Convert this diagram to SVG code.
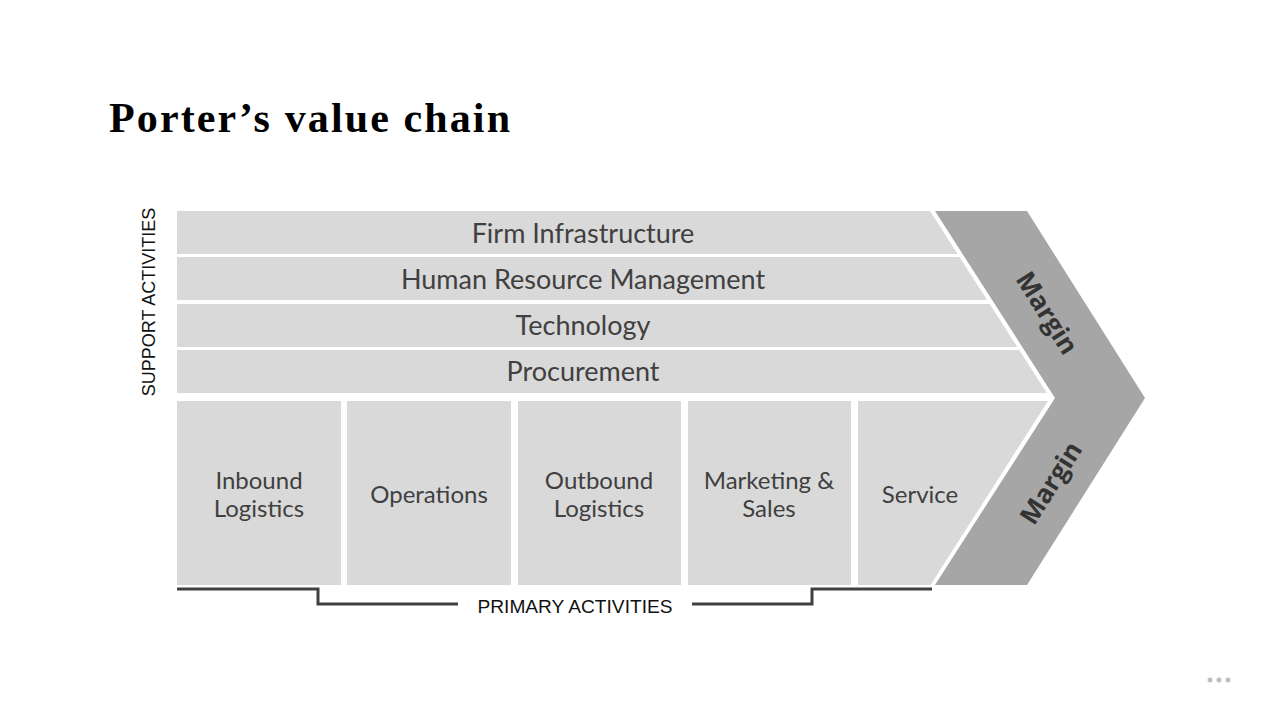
<svg xmlns="http://www.w3.org/2000/svg" width="1280" height="720" viewBox="0 0 1280 720">
<defs>
<style>
.light{fill:#d9d9d9}
.dark{fill:#a6a6a6}
.lbl{font-family:Lato,"Open Sans",sans-serif;fill:#404040;text-anchor:middle}
.row{font-size:27px}
.prim{font-size:24px}
.margin{font-family:"Open Sans",Inter,sans-serif;font-weight:700;font-size:26px;fill:#333333;text-anchor:middle}
.cap{font-family:"Liberation Sans",Arial,sans-serif;font-size:18px;fill:#111111;text-anchor:middle}
</style>
</defs>
<rect width="1280" height="720" fill="#ffffff"/>
<text x="109" y="132" font-family="'Liberation Serif',serif" font-weight="700" font-size="42" fill="#000000" textLength="401" lengthAdjust="spacing">Porter’s value chain</text>

<g id="margin">
<polygon class="dark" points="935,211 1027,211 1145,398 1027,585 935,585 1055,398"/>
<text class="margin" transform="translate(1047,313) rotate(57.7)" y="9">Margin</text>
<text class="margin" transform="translate(1051,483) rotate(-57.7)" y="9">Margin</text>
</g>

<g id="firm-infrastructure">
<polygon class="light" points="177,211 930,211 957.6,254 177,254"/>
<text class="lbl row" x="583" y="243">Firm Infrastructure</text>
</g>
<g id="hrm">
<polygon class="light" points="177,257 959.5,257 987.1,300 177,300"/>
<text class="lbl row" x="583" y="289">Human Resource Management</text>
</g>
<g id="technology">
<polygon class="light" points="177,304 989.7,304 1017.3,347 177,347"/>
<text class="lbl row" x="583" y="335">Technology</text>
</g>
<g id="procurement">
<polygon class="light" points="177,350 1019.2,350 1046.9,393 177,393"/>
<text class="lbl row" x="583" y="381">Procurement</text>
</g>

<g id="inbound-logistics">
<rect class="light" x="177" y="401" width="164" height="184"/>
<text class="lbl prim" x="259" y="489">Inbound</text>
<text class="lbl prim" x="259" y="517">Logistics</text>
</g>
<g id="operations">
<rect class="light" x="347" y="401" width="164" height="184"/>
<text class="lbl prim" x="429" y="503">Operations</text>
</g>
<g id="outbound-logistics">
<rect class="light" x="518" y="401" width="163" height="184"/>
<text class="lbl prim" x="599" y="489">Outbound</text>
<text class="lbl prim" x="599" y="517">Logistics</text>
</g>
<g id="marketing-sales">
<rect class="light" x="688" y="401" width="163" height="184"/>
<text class="lbl prim" x="769" y="489">Marketing &amp;</text>
<text class="lbl prim" x="769" y="517">Sales</text>
</g>
<g id="service">
<polygon class="light" points="858,401 1048,401 930.5,585 858,585"/>
<text class="lbl prim" x="920" y="503">Service</text>
</g>

<g id="connectors">
<polyline points="177,589 318,589 318,604 458,604" fill="none" stroke="#404040" stroke-width="3"/>
<polyline points="692,604 812,604 812,589 932,589" fill="none" stroke="#404040" stroke-width="3"/>
</g>

<g id="labels">
<text class="cap" transform="translate(155,302) rotate(-90)">SUPPORT ACTIVITIES</text>
<text class="cap" x="575" y="613" font-size="19" textLength="195" lengthAdjust="spacingAndGlyphs">PRIMARY ACTIVITIES</text>
</g>

<g id="dots" fill="#bfbfbf">
<circle cx="1210" cy="680" r="2.5"/>
<circle cx="1219" cy="680" r="2.5"/>
<circle cx="1228" cy="680" r="2.5"/>
</g>
</svg>
